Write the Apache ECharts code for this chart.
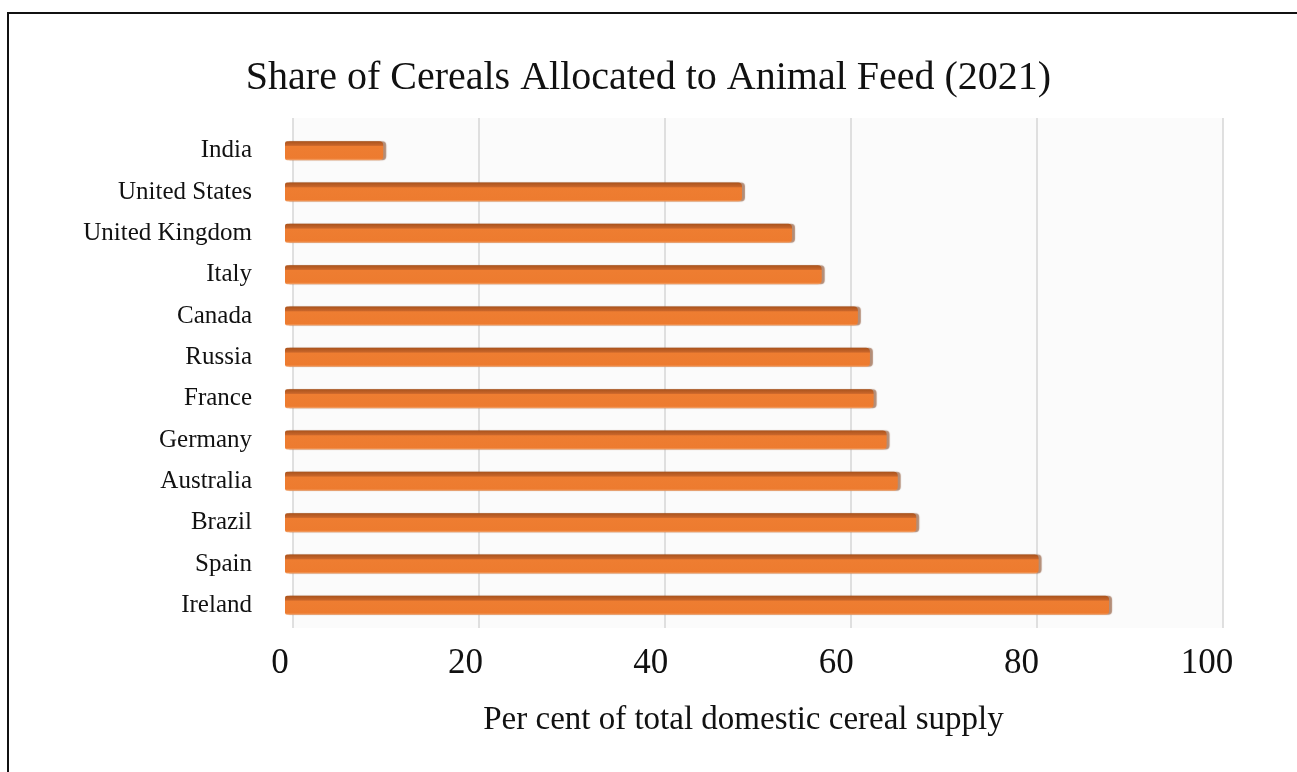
<!DOCTYPE html>
<html>
<head>
    <meta charset="utf-8"/>
    <title>Share of Cereals Allocated to Animal Feed</title>
    <script src="https://cdn.jsdelivr.net/npm/echarts@6/dist/echarts.min.js"></script>
    <style>
        html, body { margin: 0; padding: 0; background: #fff; }
        #frame {
            position: absolute; left: 7px; top: 12px; width: 1288px; height: 770px;
            border-top: 2px solid #111; border-left: 2px solid #111; border-right: 1px solid #ddd;
        }
        #chart { position: absolute; left: 0; top: 0; width: 1297px; height: 772px; }
    </style>
</head>
<body>
<div id="frame"></div>
<div id="chart"></div>
<script>
    // 数据
    var countries = ['India', 'United States', 'United Kingdom', 'Italy', 'Canada', 'Russia',
        'France', 'Germany', 'Australia', 'Brazil', 'Spain', 'Ireland'];
    var shares = [10.6, 49.3, 54.7, 57.9, 61.8, 63.1, 63.5, 64.9, 66.1, 68.1, 81.3, 88.9];
    var xTicks = [0, 20, 40, 60, 80, 100];

    var font = '"Liberation Serif", "Times New Roman", serif';
    var chart = echarts.init(document.getElementById('chart'));

    var option = {
        backgroundColor: 'transparent',
        title: {
            text: 'Share of Cereals Allocated to Animal Feed (2021)',
            left: 'center', top: 53,
            textStyle: { fontFamily: font, fontWeight: 'normal', fontSize: 40, color: '#111' }
        },
        grid: [
            // 柱子所在平面
            { left: 285, right: 85, top: 130, bottom: 146 },
            // 背墙网格
            { left: 293, right: 74, top: 118, bottom: 144, show: true, backgroundColor: '#fbfbfb', borderWidth: 0 }
        ],
        xAxis: [{
            gridIndex: 0, type: 'value', min: 0, max: 100, interval: 20,
            axisLine: { show: false }, axisTick: { show: false }, splitLine: { show: false },
            axisLabel: {
                fontFamily: font, fontSize: 35, color: '#111', margin: 20,
                padding: [0, 10, 0, 0],
                formatter: function (v) { return xTicks.indexOf(v) >= 0 ? String(v) : ''; }
            },
            name: 'Per cent of total domestic cereal supply',
            nameLocation: 'middle', nameGap: 78,
            nameTextStyle: { fontFamily: font, fontSize: 33, color: '#111', padding: [0, 10, 0, 0] }
        }, {
            gridIndex: 1, type: 'value', min: 0, max: 100, interval: 20,
            axisLine: { show: false }, axisTick: { show: false }, axisLabel: { show: false },
            splitLine: { show: true, lineStyle: { color: '#d6d6d6', width: 1.5 } }
        }],
        yAxis: [{
            gridIndex: 0, type: 'category', data: countries, inverse: true,
            axisLine: { show: false }, axisTick: { show: false },
            axisLabel: { fontFamily: font, fontSize: 25, color: '#111', margin: 33 }
        }, {
            gridIndex: 1, type: 'category', data: countries, show: false
        }],
        series: [{
            type: 'bar', xAxisIndex: 0, yAxisIndex: 0, z: 5,
            data: shares,
            barWidth: 19,
            itemStyle: {
                borderRadius: [2, 4, 4, 2],
                color: new echarts.graphic.LinearGradient(0, 0, 0, 1, [
                    { offset: 0, color: '#a9531c' },
                    { offset: 0.22, color: '#c8652a' },
                    { offset: 0.28, color: '#ee7d31' },
                    { offset: 0.9, color: '#ed7b2f' },
                    { offset: 1, color: '#f3a46c' }
                ]),
                shadowColor: 'rgba(120,50,10,0.55)', shadowOffsetX: 3, shadowBlur: 1
            }
        }]
    };
    chart.setOption(option);
    window.onresize = function () { chart.resize(); };
</script>
</body>
</html>
